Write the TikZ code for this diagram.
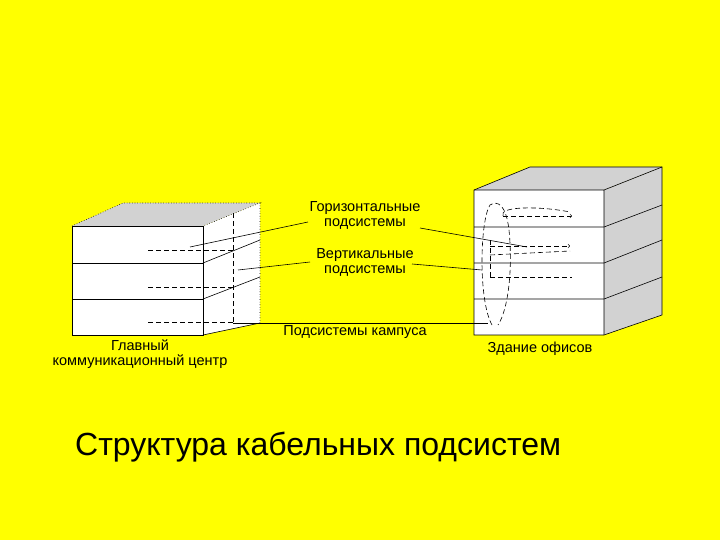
\documentclass[tikz,border=0pt]{standalone}
\usepackage{fontspec}
\setmainfont{Liberation Sans}
\definecolor{bg}{RGB}{255,255,0}
\definecolor{roof}{RGB}{210,210,210}
\begin{document}
\begin{tikzpicture}[x=1pt,y=-1pt,
  lbl/.style={font=\fontsize{14.5}{15}\selectfont,align=center,inner sep=1pt},
  ln/.style={draw=black,line width=0.6pt},
  dl/.style={draw=black,dash pattern=on 5pt off 3pt,line width=0.6pt}]
\fill[bg] (0,0) rectangle (720,540);
\useasboundingbox (0,0) rectangle (720,540);
% left building
\fill[roof] (72,226)--(123,203)--(260,203)--(203,226)--cycle;
\fill[white] (203,226)--(260,203)--(260,323)--(203,335)--cycle;
\fill[white] (72,226) rectangle (203,335);
\draw[ln] (72,226) rectangle (203,335);
\draw[ln] (72,263)--(203,263) (72,299)--(203,299);
\draw[ln] (203,263)--(260,240) (203,299)--(260,277) (203,335)--(260,323);
\draw[ln,dotted] (72,226)--(123,203)--(260,203)--(203,226) (260,203)--(260,323);
\draw[dl] (233,213)--(233,323);
\draw[dl] (148,250)--(233,250) (148,287)--(233,287) (148,322)--(233,322);
% right building
\fill[roof] (474,190)--(530,167)--(662,167)--(604,190)--cycle;
\fill[roof] (604,190)--(662,167)--(662,315)--(604,335)--cycle;
\fill[white] (474,190) rectangle (604,335);
\draw[ln] (474,190)--(530,167)--(662,167)--(662,315)--(604,335)--(474,335)--cycle;
\draw[ln] (474,190)--(604,190)--(662,167) (604,190)--(604,335);
\foreach \y/\z in {227/205,263/240,299/277}
  \draw[ln] (474,\y)--(604,\y)--(662,\z);
\draw[dl] (492,325) .. controls (478,300) and (480,220) .. (490,205) .. controls (498,200) and (506,205) .. (509,230) .. controls (513,270) and (508,310) .. (498,325);
\draw[dl,->] (503,216)--(572,216);
\draw[dl] (503,216) .. controls (498,206) and (540,206) .. (570,212);
\draw[dl,->] (490,246)--(570,246);
\draw[dl] (490,255)--(570,251);
\draw[dl] (490,277)--(572,277);
\draw[dl] (490,277)--(490,240);
% labels
\node[lbl] (h) at (365,215) {Горизонтальные\\подсистемы};
\node[lbl] (v) at (365,262) {Вертикальные\\подсистемы};
\node[lbl] (k) at (355,332) {Подсистемы кампуса};
\node[lbl] (g) at (140,354) {Главный\\коммуникационный центр};
\node[lbl] (z) at (540,349) {Здание офисов};
\node[font=\fontsize{32}{34}\selectfont,anchor=west,inner sep=0pt] (t) at (75,447) {Структура кабельных подсистем};
\coordinate (h1) at (190,247); \coordinate (h2) at (527,247);
\coordinate (v1) at (238,270); \coordinate (v2) at (482,270);
\coordinate (k1) at (233,323); \coordinate (k2) at (488,323);
\draw[ln] (308,222) -- (h1);
\draw[ln] (420,228) -- (h2);
\draw[ln] (310,262) -- (v1);
\draw[ln] (412,264) -- (v2);
\draw[ln] (k1)--(k2);
\end{tikzpicture}
\end{document}
